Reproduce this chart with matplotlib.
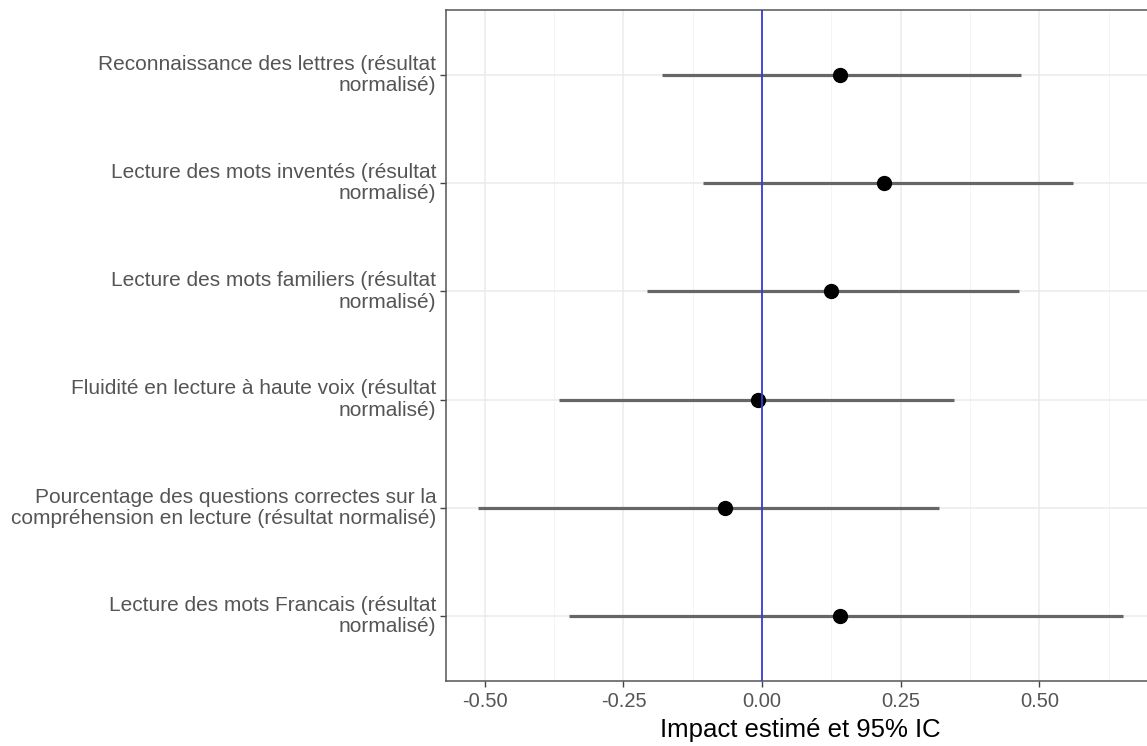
import matplotlib
matplotlib.use("Agg")
from matplotlib import pyplot as plt
from matplotlib.ticker import MultipleLocator

plt.rcParams['font.family'] = ['Liberation Sans', 'DejaVu Sans']

# outcomes, top to bottom
labels = [
    "Reconnaissance des lettres (résultat\nnormalisé)",
    "Lecture des mots inventés (résultat\nnormalisé)",
    "Lecture des mots familiers (résultat\nnormalisé)",
    "Fluidité en lecture à haute voix (résultat\nnormalisé)",
    "Pourcentage des questions correctes sur la\ncompréhension en lecture (résultat normalisé)",
    "Lecture des mots Francais (résultat\nnormalisé)",
]
estimate = [0.140, 0.220, 0.124, -0.007, -0.067, 0.140]
ci_low = [-0.180, -0.107, -0.207, -0.366, -0.512, -0.348]
ci_high = [0.467, 0.561, 0.463, 0.346, 0.319, 0.650]
xticks = [-0.50, -0.25, 0.00, 0.25, 0.50]

fig = plt.figure(figsize=(11.47, 7.46), dpi=100)
# panel runs a bit past the right edge, like the cropped original
ax = fig.add_axes([0.3888, 0.0871, 0.618, 0.8995])

y = list(range(len(labels), 0, -1))

ax.hlines(y, ci_low, ci_high, color='#666666', linewidth=2.3, zorder=3)
ax.plot(estimate, y, 'o', color='black', markersize=10, zorder=4)
ax.axvline(0, color='#3a3ad8', linewidth=1.3, zorder=5)

ax.set_xlim(-0.570, 0.708)
ax.set_ylim(0.4, len(labels) + 0.6)
ax.set_xticks(xticks)
ax.set_xticklabels(['%.2f' % v for v in xticks])
ax.xaxis.set_minor_locator(MultipleLocator(0.125))
ax.set_yticks(y)
ax.set_yticklabels(labels, ha='right', va='center', linespacing=1.15)

ax.grid(which='major', color='#ebebeb', linewidth=1.1, zorder=0)
ax.grid(which='minor', axis='x', color='#f2f2f2', linewidth=0.6, zorder=0)
ax.set_axisbelow(True)

for s in ax.spines.values():
    s.set_color('#555555')
    s.set_linewidth(1.1)

ax.tick_params(axis='both', which='major', length=4, width=1, color='#444444',
               labelcolor='#555555', labelsize=14.5, pad=3)
ax.tick_params(axis='y', which='major', labelsize=15)
ax.tick_params(axis='x', which='major', pad=4)
ax.tick_params(axis='x', which='minor', length=0)

ax.set_xlabel('Impact estimé et 95% IC', fontsize=18.5, color='black', labelpad=5)

fig.savefig('out.png', dpi=100)
